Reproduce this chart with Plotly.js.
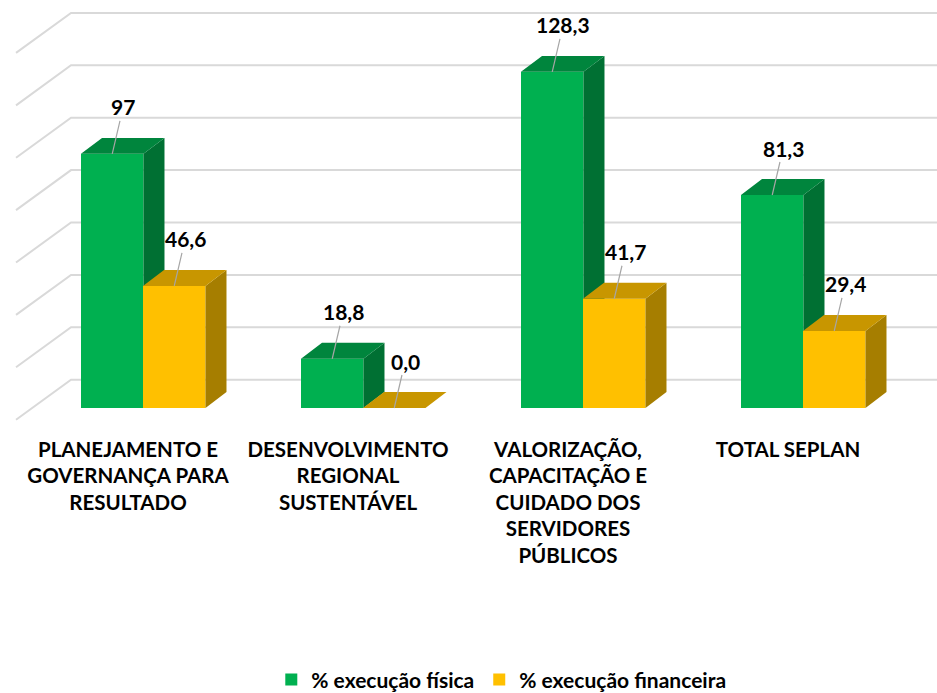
<!DOCTYPE html>
<html>
<head>
<meta charset="utf-8">
<script src="https://cdn.plot.ly/plotly-3.0.1.min.js"></script>
<style>html,body{margin:0;padding:0;background:#fff;}#chart{width:937px;height:693px;}</style>
</head>
<body>
<div id="chart"></div>
<script>
// ---- data ----
const categorias = [
  'PLANEJAMENTO E<br>GOVERNANÇA PARA<br>RESULTADO',
  'DESENVOLVIMENTO<br>REGIONAL<br>SUSTENTÁVEL',
  'VALORIZAÇÃO,<br>CAPACITAÇÃO E<br>CUIDADO DOS<br>SERVIDORES<br>PÚBLICOS',
  'TOTAL SEPLAN'
];
const serieFisica = '% execução física';
const serieFinanceira = '% execução financeira';
const fisica = [97, 18.8, 128.3, 81.3];
const financeira = [46.6, 0.0, 41.7, 29.4];
const rotulosFisica = ['97', '18,8', '128,3', '81,3'];
const rotulosFinanceira = ['46,6', '0,0', '41,7', '29,4'];
const grade = [0, 20, 40, 60, 80, 100, 120, 140];

// ---- style / geometry ----
const xRange = [-0.5818, 3.6773];
const yRange = [-9.16, 155.73];
const barW = 0.284;
const offVerde = -0.2136, offAmarelo = 0.0682;
const dX = 0.0955, dY = 6.1;           // bar depth
const wallX0 = -0.509, wallX1 = -0.259; // side wall front / back
const wallY0 = -4.47, wallY1 = 10.8;    // side wall vertical offsets
const cores = {
  verde: '#00B050', verdeTopo: '#00853D', verdeLado: '#007033',
  amarelo: '#FFC000', amareloTopo: '#C89600', amareloLado: '#A67E00'
};
const fonte = 'Lato, "Open Sans", sans-serif';
const idx = categorias.map((_, i) => i);

function faces(vals, off) {
  const top = {x: [], y: []}, side = {x: [], y: []};
  vals.forEach((v, i) => {
    const x0 = i + off, x1 = x0 + barW;
    top.x.push(x0, x1, x1 + dX, x0 + dX, x0, null);
    top.y.push(v, v, v + dY, v + dY, v, null);
    side.x.push(x1, x1 + dX, x1 + dX, x1, x1, null);
    side.y.push(0, dY, v + dY, v, 0, null);
  });
  return {top, side};
}
function faceTrace(pts, color, xa, ya) {
  return {type: 'scatter', mode: 'lines', x: pts.x, y: pts.y, fill: 'toself',
    fillcolor: color, line: {width: 0, color: color}, hoverinfo: 'skip',
    showlegend: false, xaxis: xa, yaxis: ya};
}
const fv = faces(fisica, offVerde);
const fa = faces(financeira, offAmarelo);

const traces = [
  {type: 'bar', name: serieFisica, x: idx, y: fisica, offset: offVerde, width: barW,
   marker: {color: cores.verde, line: {width: 0}}, xaxis: 'x', yaxis: 'y'},
  faceTrace(fv.side, cores.verdeLado, 'x', 'y'),
  faceTrace(fv.top, cores.verdeTopo, 'x', 'y'),
  {type: 'bar', name: serieFinanceira, x: idx, y: financeira, offset: offAmarelo, width: barW,
   marker: {color: cores.amarelo, line: {width: 0}}, xaxis: 'x2', yaxis: 'y2'},
  faceTrace(fa.side, cores.amareloLado, 'x2', 'y2'),
  faceTrace(fa.top, cores.amareloTopo, 'x2', 'y2')
];

const shapes = grade.map(g => ({
  type: 'path', xref: 'x', yref: 'y', layer: 'below',
  path: 'M ' + wallX0 + ',' + (g + wallY0) + ' L ' + wallX1 + ',' + (g + wallY1) +
        ' L ' + xRange[1] + ',' + (g + wallY1),
  line: {color: '#D9D9D9', width: 2}
}));

const annotations = [];
function addLabels(vals, labels, off) {
  vals.forEach((v, i) => {
    annotations.push({x: i + off + barW / 2, y: v, xref: 'x', yref: 'y', text: labels[i],
      showarrow: true, arrowhead: 0, arrowwidth: 1.2, arrowcolor: '#A6A6A6',
      ax: 11, ay: -47, standoff: 0,
      font: {family: fonte, size: 21, color: '#000', weight: 700}});
  });
}
addLabels(fisica, rotulosFisica, offVerde);
addLabels(financeira, rotulosFinanceira, offAmarelo);

const layout = {
  width: 937, height: 693,
  margin: {l: 0, r: 0, t: 0, b: 261},
  paper_bgcolor: '#fff', plot_bgcolor: 'rgba(0,0,0,0)',
  showlegend: true,
  xaxis: {range: xRange, tickvals: idx, ticktext: categorias, showgrid: false,
    zeroline: false, showline: false, ticks: '', fixedrange: true, automargin: false,
    ticklabelstandoff: 3,
    tickfont: {family: fonte, size: 20.5, color: '#000', weight: 700}},
  yaxis: {range: yRange, visible: false, showgrid: false, zeroline: false, fixedrange: true},
  xaxis2: {range: xRange, overlaying: 'x', anchor: 'y2', visible: false, fixedrange: true},
  yaxis2: {range: yRange, overlaying: 'y', anchor: 'x2', visible: false, fixedrange: true},
  legend: {orientation: 'h', x: 0.535, xanchor: 'center', xref: 'container',
    y: 0.019, yref: 'container', yanchor: 'middle', tracegroupgap: 0,
    font: {family: fonte, size: 21, color: '#000', weight: 700}},
  shapes: shapes,
  annotations: annotations
};

Plotly.newPlot('chart', traces, layout, {displayModeBar: false, staticPlot: true});
</script>
</body>
</html>
